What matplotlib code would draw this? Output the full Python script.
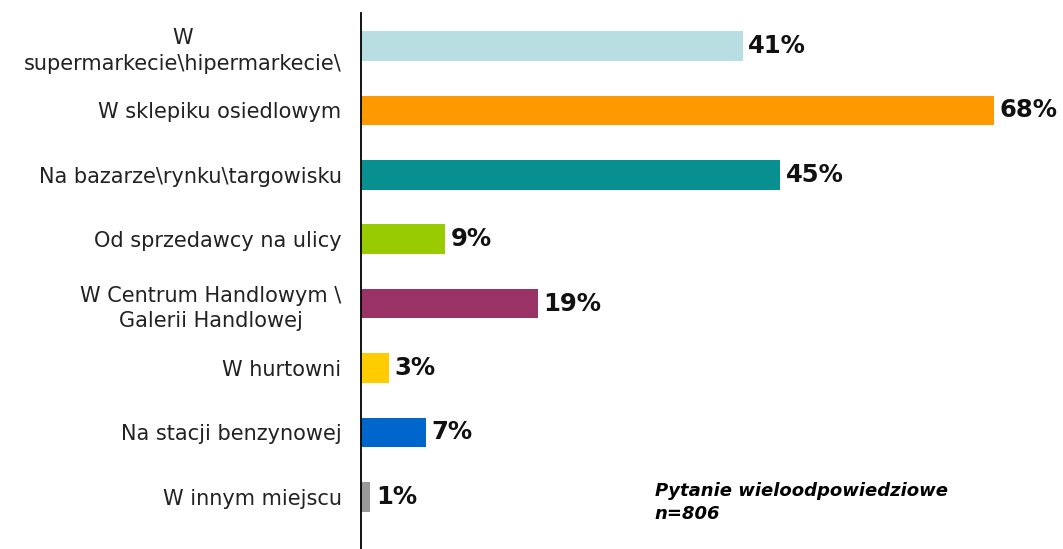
import matplotlib.pyplot as plt

# data
categories = ['W\nsupermarkecie\\hipermarkecie\\',
              'W sklepiku osiedlowym',
              'Na bazarze\\rynku\\targowisku',
              'Od sprzedawcy na ulicy',
              'W Centrum Handlowym \\\nGalerii Handlowej',
              'W hurtowni',
              'Na stacji benzynowej',
              'W innym miejscu']
values = [41, 68, 45, 9, 19, 3, 7, 1]
colors = ['#b8dee2', '#ff9900', '#089090', '#99cc00',
          '#993366', '#ffcc00', '#0066cc', '#999999']

fig = plt.figure(figsize=(10.63, 5.49), dpi=100)
ax = fig.add_axes([0.3396, 0.0, 0.657, 0.976])

pos = list(range(len(categories)))
ax.barh(pos, values, height=0.46, color=colors)

for p, v in zip(pos, values):
    ax.text(v + 0.6, p, f'{v}%', va='center', ha='left',
            fontsize=17.5, fontweight='bold', color='#111111')

ax.set_xlim(0, 75)
ax.set_ylim(7.81, -0.51)
ax.set_yticks(pos)
ax.set_yticklabels(categories, fontsize=15, multialignment='center',
                   color='#222222', linespacing=1.35)
ax.tick_params(axis='y', length=0, pad=14)
ax.set_xticks([])
for s in ['top', 'right', 'bottom']:
    ax.spines[s].set_visible(False)
ax.spines['left'].set_linewidth(1.3)

fig.text(0.616, 0.085, 'Pytanie wieloodpowiedziowe\nn=806', fontsize=13,
         fontweight='bold', fontstyle='italic', va='center', ha='left',
         linespacing=1.4)

fig.savefig('out.png', dpi=100)
